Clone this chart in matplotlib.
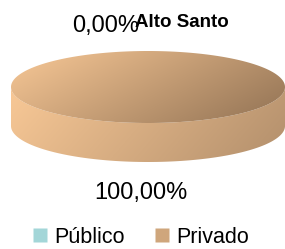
import numpy as np
import matplotlib.pyplot as plt
from matplotlib.patches import Polygon
from matplotlib.lines import Line2D

plt.rcParams['font.family'] = ['Liberation Sans', 'DejaVu Sans']

title = 'Alto Santo'
categories = ['Público', 'Privado']
values = [0.0, 100.0]
colors = ['#a3d6d8', '#cfa67c']
# light / dark ends of the shading for each slice
shade_light = [(190, 235, 238), (248, 200, 150)]
shade_dark = [(90, 150, 155), (155, 122, 90)]
side_dark = [(110, 165, 170), (182, 146, 110)]

W, H = 285, 249
fig = plt.figure(figsize=(W / 100, H / 100), dpi=100)
ax = fig.add_axes([0, 0, 1, 1])

cx, cy, rx, ry, depth = 148, 87, 137, 36, 39


def pt(theta, dy=0):
    # theta in degrees, clockwise from 12 o'clock
    t = np.radians(theta)
    return cx + rx * np.sin(t), cy - ry * np.cos(t) + dy


def grad_fill(poly, c0, c1, box, wx=0.75, wy=0.35):
    x0, x1, y0, y1 = box
    n = 80
    xx, yy = np.meshgrid(np.linspace(0, 1, n), np.linspace(0, 1, n))
    t = np.clip(xx * wx + yy * wy, 0, 1)
    a = np.array(c0) / 255
    b = np.array(c1) / 255
    img = a + t[..., None] * (b - a)
    patch = Polygon(poly, closed=True, facecolor='none', edgecolor='none')
    ax.add_patch(patch)
    im = ax.imshow(img, extent=(x0, x1, y1, y0), origin='upper',
                   interpolation='bilinear', aspect='auto', zorder=2)
    im.set_clip_path(patch)


total = sum(values)
start = 0.0
for i, v in enumerate(values):
    sweep = 360.0 * v / total
    if sweep <= 0:
        start += sweep
        continue
    end = start + sweep
    # front side wall (visible between 90 and 270 deg)
    a0, a1 = max(start, 90), min(end, 270)
    if a1 > a0:
        th = np.linspace(a0, a1, 120)
        top = [pt(t) for t in th]
        bot = [pt(t, depth) for t in th[::-1]]
        grad_fill(top + bot, shade_light[i], side_dark[i],
                  (cx - rx, cx + rx, cy, cy + ry + depth), wx=0.85, wy=0.2)
    # top face
    th = np.linspace(start, end, 240)
    poly = [pt(t) for t in th]
    if sweep < 360:
        poly = [(cx, cy)] + poly
    grad_fill(poly, shade_light[i], shade_dark[i],
              (cx - rx, cx + rx, cy - ry, cy + ry))
    start = end

# data labels
label_pos = [(106, 26), (141, 193)]
for v, (lx, ly) in zip(values, label_pos):
    txt = f'{v / total * 100:.2f}%'.replace('.', ',')
    ax.text(lx, ly, txt, fontsize=17, ha='center', va='center', color='#000000', zorder=5)

ax.text(182, 22, title, fontsize=13.5, fontweight='bold', ha='center', va='center', zorder=6)

ax.set_xlim(0, W)
ax.set_ylim(H, 0)
ax.axis('off')

handles = [Line2D([], [], marker='s', linestyle='', markersize=10,
                  markerfacecolor=c, markeredgecolor='none') for c in colors]
fig.legend(handles, categories, loc='center', bbox_to_anchor=(141 / W, 1 - 237 / H),
           ncol=2, frameon=False, fontsize=15.5, handletextpad=0.3,
           columnspacing=1.4, handlelength=0.7, borderpad=0)

fig.savefig('out.png', dpi=100)
